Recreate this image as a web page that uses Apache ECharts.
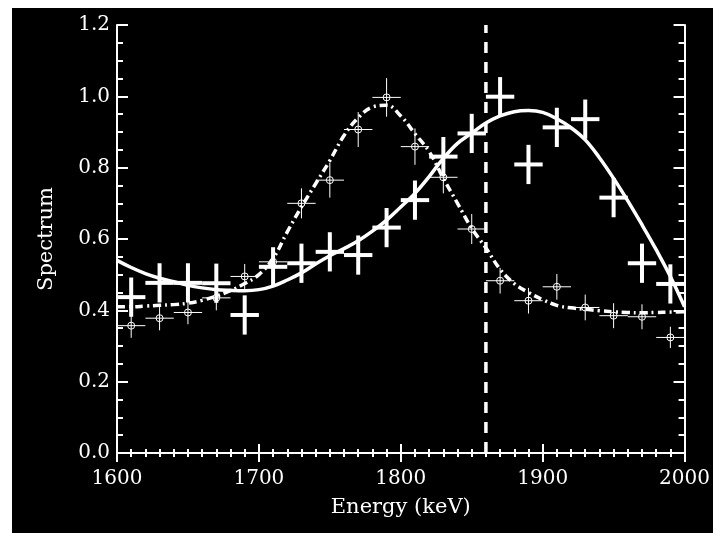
<!DOCTYPE html>
<html>
<head>
<meta charset="utf-8">
<script src="https://cdn.jsdelivr.net/npm/echarts@6/dist/echarts.min.js"></script>
<style>
  html, body { margin: 0; padding: 0; background: #fff; overflow: hidden; }
  #chart { width: 713px; height: 533px; }
</style>
</head>
<body>
<div id="chart"></div>
<script>
// measured points, 20 keV bins
const binE = [1610, 1630, 1650, 1670, 1690, 1710, 1730, 1750, 1770, 1790,
  1810, 1830, 1850, 1870, 1890, 1910, 1930, 1950, 1970, 1990]
const bigY = [0.437, 0.477, 0.477, 0.476, 0.387, 0.522, 0.532, 0.564, 0.555, 0.632,
  0.709, 0.831, 0.896, 0.999, 0.809, 0.913, 0.936, 0.716, 0.532, 0.474]
const bigErrY = 0.055
const smallY = [0.357, 0.378, 0.394, 0.435, 0.495, 0.536, 0.700, 0.765, 0.907, 0.997,
  0.859, 0.773, 0.628, 0.483, 0.427, 0.466, 0.408, 0.385, 0.382, 0.324]
const smallErrY = [0.034, 0.034, 0.033, 0.035, 0.035, 0.038, 0.042, 0.049, 0.049, 0.054,
  0.051, 0.045, 0.042, 0.036, 0.036, 0.036, 0.036, 0.035, 0.035, 0.030]
const binHalf = 10

// fitted curves
const fitE = [1600, 1610, 1620, 1630, 1640, 1650, 1660, 1670, 1680, 1690,
  1700, 1710, 1720, 1730, 1740, 1750, 1760, 1770, 1780, 1790,
  1800, 1810, 1820, 1830, 1840, 1850, 1860, 1870, 1880, 1890,
  1900, 1910, 1920, 1930, 1940, 1950, 1960, 1970, 1980, 1990, 2000]
const fitSolid = [0.54, 0.52, 0.503, 0.49, 0.48, 0.47, 0.463, 0.458, 0.456, 0.455,
  0.458, 0.468, 0.485, 0.505, 0.53, 0.553, 0.573, 0.595, 0.622, 0.653,
  0.69, 0.728, 0.775, 0.826, 0.868, 0.897, 0.925, 0.945, 0.957, 0.96,
  0.955, 0.937, 0.912, 0.878, 0.828, 0.77, 0.707, 0.64, 0.57, 0.495, 0.41]
const fitDashDot = [0.41, 0.41, 0.412, 0.414, 0.416, 0.42, 0.428, 0.44, 0.455, 0.475,
  0.50, 0.545, 0.62, 0.69, 0.755, 0.82, 0.89, 0.94, 0.97, 0.975,
  0.945, 0.895, 0.845, 0.77, 0.70, 0.63, 0.575, 0.515, 0.475, 0.45,
  0.43, 0.414, 0.407, 0.403, 0.399, 0.396, 0.394, 0.393, 0.394, 0.395, 0.396]

const cutE = 1860
const xTicks = [1600, 2000, 100]
const yTicks = [0, 1.2, 0.2]

const FONT = 'DejaVu Serif'
const WHITE = '#ffffff'

function crossRender(lw, circle) {
  return function (params, api) {
    const x = api.value(0)
    const y = api.value(1)
    const ex = api.value(2)
    const ey = api.value(3)
    const l = api.coord([x - ex, y])
    const r = api.coord([x + ex, y])
    const t = api.coord([x, y + ey])
    const b = api.coord([x, y - ey])
    const c = api.coord([x, y])
    const style = { stroke: WHITE, lineWidth: lw, fill: null }
    const children = [
      { type: 'line', shape: { x1: l[0], y1: l[1], x2: r[0], y2: r[1] }, style },
      { type: 'line', shape: { x1: t[0], y1: t[1], x2: b[0], y2: b[1] }, style }
    ]
    if (circle) {
      children.push({ type: 'circle', shape: { cx: c[0], cy: c[1], r: 3.5 }, style })
    }
    return { type: 'group', children }
  }
}

const bigData = binE.map((e, i) => [e, bigY[i], binHalf, bigErrY])
const smallData = binE.map((e, i) => [e, smallY[i], binHalf, smallErrY[i]])

const myChart = echarts.init(document.getElementById('chart'))

const xBase = {
  type: 'value',
  min: xTicks[0],
  max: xTicks[1],
  interval: xTicks[2],
  axisLine: { lineStyle: { color: WHITE, width: 2 } },
  axisTick: { inside: true, length: 9, lineStyle: { color: WHITE, width: 2 } },
  minorTick: { show: true, splitNumber: 10, length: 4, lineStyle: { color: WHITE, width: 2 } },
  splitLine: { show: false }
}
const yBase = {
  type: 'value',
  min: yTicks[0],
  max: yTicks[1],
  interval: yTicks[2],
  axisLine: { show: true, lineStyle: { color: WHITE, width: 2 } },
  axisTick: { show: true, inside: true, length: 11, lineStyle: { color: WHITE, width: 2 } },
  minorTick: { show: true, splitNumber: 4, length: 6, lineStyle: { color: WHITE, width: 2 } },
  splitLine: { show: false }
}

const option = {
  backgroundColor: '#fff',
  animation: false,
  graphic: [
    {
      type: 'rect',
      left: 12,
      top: 8,
      z: -10,
      silent: true,
      shape: { width: 701, height: 525 },
      style: { fill: '#000' }
    }
  ],
  grid: { left: 117, top: 25, width: 574, height: 428 },
  xAxis: [
    Object.assign({}, xBase, {
      position: 'bottom',
      name: 'Energy (keV)',
      nameLocation: 'middle',
      nameGap: 44,
      nameTextStyle: { color: WHITE, fontFamily: FONT, fontSize: 21 },
      axisLabel: {
        color: WHITE, fontFamily: FONT, fontSize: 20, margin: 16,
        formatter: v => String(v)
      }
    }),
    Object.assign({}, xBase, { position: 'top', axisLabel: { show: false } })
  ],
  yAxis: [
    Object.assign({}, yBase, {
      position: 'left',
      name: 'Spectrum',
      nameLocation: 'middle',
      nameGap: 60,
      nameRotate: 90,
      nameTextStyle: { color: WHITE, fontFamily: FONT, fontSize: 21 },
      axisLabel: {
        color: WHITE, fontFamily: FONT, fontSize: 20, margin: 7,
        formatter: v => v.toFixed(1)
      }
    }),
    Object.assign({}, yBase, { position: 'right', axisLabel: { show: false } })
  ],
  series: [
    {
      name: 'fit solid',
      type: 'line',
      data: fitE.map((e, i) => [e, fitSolid[i]]),
      smooth: 0.4,
      showSymbol: false,
      lineStyle: { color: WHITE, width: 3.5 },
      z: 3
    },
    {
      name: 'fit dash-dot',
      type: 'line',
      data: fitE.map((e, i) => [e, fitDashDot[i]]),
      smooth: 0.4,
      showSymbol: false,
      lineStyle: { color: WHITE, width: 3.5, type: [8, 4, 2, 4] },
      z: 3
    },
    {
      name: 'cut',
      type: 'line',
      data: [[cutE, yTicks[0]], [cutE, yTicks[1]]],
      showSymbol: false,
      lineStyle: { color: WHITE, width: 3.5, type: [11, 9] },
      z: 2
    },
    {
      name: 'big',
      type: 'custom',
      renderItem: crossRender(4, false),
      encode: { x: 0, y: 1 },
      data: bigData,
      z: 4
    },
    {
      name: 'small',
      type: 'custom',
      renderItem: crossRender(1, true),
      encode: { x: 0, y: 1 },
      data: smallData,
      z: 5
    }
  ]
}

myChart.setOption(option)
</script>
</body>
</html>
